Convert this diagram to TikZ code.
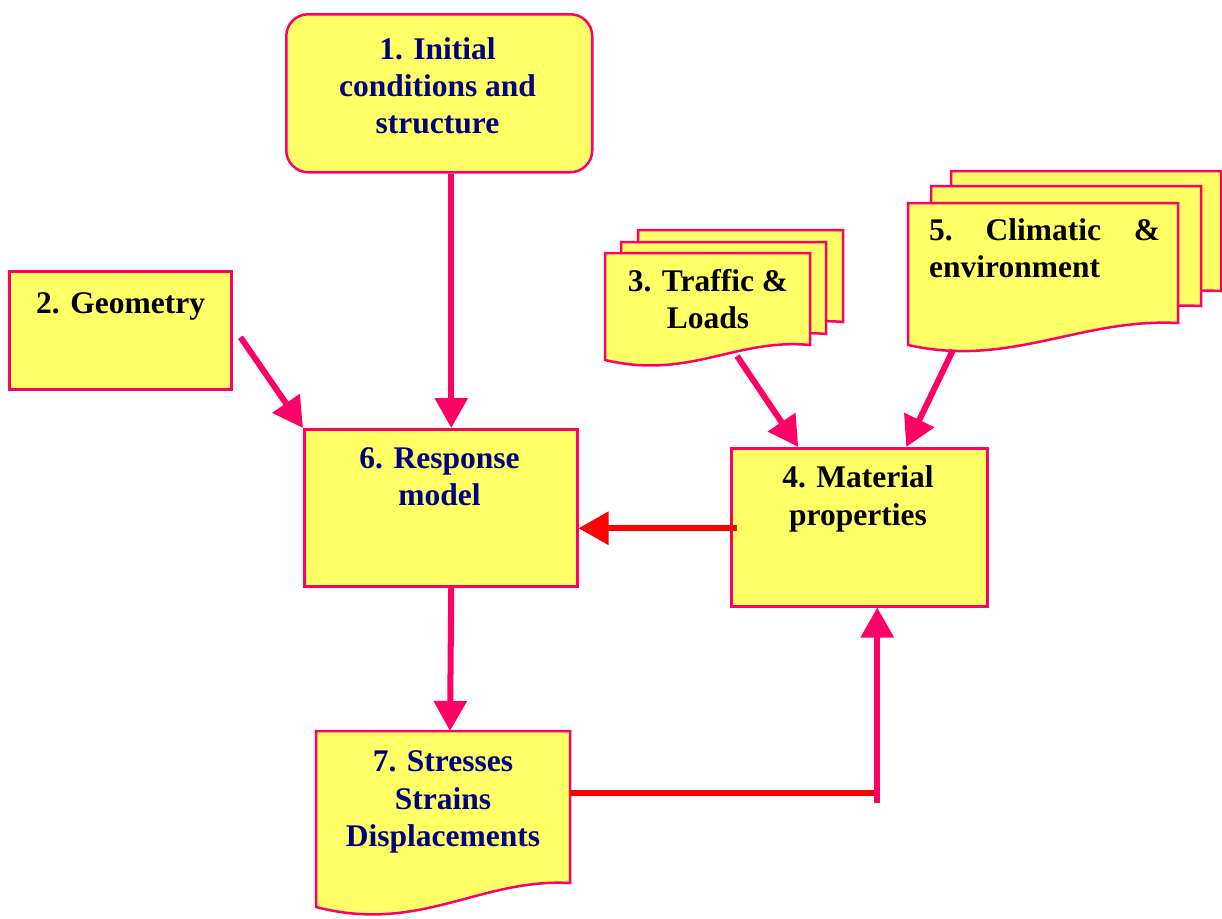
\documentclass[tikz,border=0pt]{standalone}
\usepackage{fontspec}
\setmainfont{Liberation Serif}
\usetikzlibrary{arrows.meta,calc}
\definecolor{fillY}{HTML}{FFFF66}
\definecolor{pinkB}{HTML}{FF0066}
\definecolor{navyT}{HTML}{000080}
\definecolor{redA}{HTML}{FF0000}
\tikzset{
  box/.style={draw=pinkB, fill=fillY, line width=2.5pt, inner sep=0pt, anchor=north west},
  doc/.style={draw=pinkB, fill=fillY, line width=2.5pt},
  lbl/.style={font=\fontsize{31.5}{37.2}\selectfont\bfseries, align=center, inner sep=0pt},
  conn/.style={line width=6pt, draw=pinkB, -{Triangle[width=32pt,length=30pt]}},
  redconn/.style={line width=6pt, draw=redA, -{Triangle[width=32pt,length=30pt]}},
}
\begin{document}
\begin{tikzpicture}[x=1pt,y=-1pt]
\useasboundingbox (0,0) rectangle (1222,918);
% 1
\node[box, rounded corners=22pt, minimum width=306pt, minimum height=158pt] (n1) at (285,13) {};
\node[lbl, text=navyT] (t1) at (437.5,86) {1. Initial\\conditions and\\structure};
% 2
\node[box, minimum width=222pt, minimum height=118pt] (n2) at (8,270) {};
\node[lbl, anchor=base west] (t2) at (36,313) {2. Geometry};
% 6
\node[box, minimum width=273pt, minimum height=157pt] (n6) at (303,428) {};
\node[lbl, text=navyT] (t6) at (439.5,477) {6. Response\\model};
% 4
\node[box, minimum width=256pt, minimum height=158pt] (n4) at (730,447) {};
\node[lbl] (t4) at (858,499) {4. Material\\properties};
% 3 multi document
\foreach \dx/\dy in {33/-23,16/-11,0/0}{
  \draw[doc, shift={(\dx,\dy)}] (605,253) -- (810,253) -- (810,345)
     .. controls (735,338) and (690,380) .. (605,360) -- cycle;
}
\node[lbl] (t3) at (708,299) {3. Traffic \&\\Loads};
\coordinate (c3) at (737,356);
% 5 multi document
\foreach \dx/\dy in {43/-32,23/-17,0/0}{
  \draw[doc, shift={(\dx,\dy)}] (908,203) -- (1178,203) -- (1178,323)
     .. controls (1080,318) and (1010,368) .. (908,345) -- cycle;
}
\node[lbl, align=left, text width=231pt, anchor=north west] (t5) at (929,218)
  {\hbox to 231pt{5.\hfill Climatic\hfill\&}\\environment};
\coordinate (c5) at (953,350);
% 7 document
\draw[doc] (316,731) -- (570,731) -- (570,883)
   .. controls (480,878) and (420,934) .. (316,907) -- cycle;
\node[lbl, text=navyT] (t7) at (443,802) {7. Stresses\\Strains\\Displacements};
\coordinate (c7t) at (450,731);
\coordinate (c7r) at (570,793);
% connectors
\draw[conn] ([xshift=12pt]n1.south) -- ([xshift=10.5pt]n6.north);
\draw[conn] ($(n2.east)+(8,7)$) -- (n6.north west);
\draw[conn] (c3) -- ([xshift=-61pt]n4.north);
\draw[conn] (c5) -- ([xshift=47pt]n4.north);
\draw[redconn] ($(n4.west)+(7,1)$) -- ($(n6.east |- n4.west)+(0,1)$);
\draw[conn] ([xshift=10.5pt]n6.south) -- (c7t);
\coordinate (j) at ([xshift=18pt]n4.south);
\draw[line width=6pt, draw=redA] (c7r) -- (c7r -| j);
\draw[conn] ($(c7r -| j)+(0,10)$) -- (j);
\end{tikzpicture}
\end{document}
